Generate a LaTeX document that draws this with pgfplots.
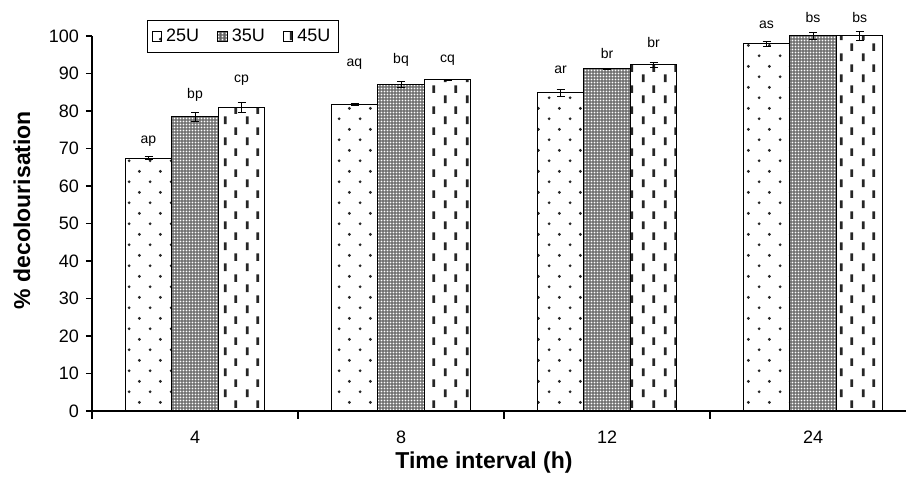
\documentclass[border=0pt]{standalone}
\usepackage{fontspec}
\setmainfont{Liberation Sans}
\usepackage{pgfplots}
\pgfplotsset{compat=1.18}
\usetikzlibrary{patterns}

\pgfdeclarepatternformonly{sparsedots}{\pgfqpoint{0pt}{0pt}}{\pgfqpoint{10.35pt}{10.67pt}}{\pgfqpoint{10.35pt}{10.67pt}}{%
  \pgfpathcircle{\pgfqpoint{2.6pt}{2.7pt}}{0.8pt}%
  \pgfpathcircle{\pgfqpoint{7.775pt}{8.035pt}}{0.8pt}%
  \pgfusepath{fill}}
\pgfdeclarepatternformonly{vdashes}{\pgfqpoint{0pt}{0pt}}{\pgfqpoint{11pt}{10.5pt}}{\pgfqpoint{11pt}{10.5pt}}{%
  \pgfpathrectangle{\pgfqpoint{2pt}{0.5pt}}{\pgfqpoint{1.4pt}{4pt}}%
  \pgfpathrectangle{\pgfqpoint{7.5pt}{5.75pt}}{\pgfqpoint{1.4pt}{4pt}}%
  \pgfusepath{fill}}
\pgfdeclarepatternformonly{mesh}{\pgfqpoint{0pt}{0pt}}{\pgfqpoint{1.7pt}{1.7pt}}{\pgfqpoint{1.7pt}{1.7pt}}{%
  \pgfpathrectangle{\pgfqpoint{0.35pt}{0.35pt}}{\pgfqpoint{1pt}{1pt}}%
  \pgfusepath{fill}}

\pgfplotsset{errs/.style={error bars/.cd, y dir=both, y explicit,
  error bar style={line width=0.5pt, black},
  error mark options={rotate=90, mark size=2pt, line width=0.5pt, black}}}

\begin{document}
\begin{tikzpicture}
\begin{axis}[
  width=407pt, height=187.5pt, scale only axis,
  xmin=-0.5, xmax=3.451, ymin=0, ymax=100,
  axis lines*=left,
  axis line style={line width=0.6pt},
  ybar, bar width=23.25pt,
  xtick={0,1,2,3}, xticklabels={4,8,12,24},
  major x tick style={draw=none},
  minor xtick={-0.5,0.5,1.5,2.5},
  ytick={0,10,...,100},
  tick align=outside, tick pos=left,
  major tick length=3pt, minor tick length=4pt,
  every tick/.style={black, line width=0.6pt},
  ticklabel style={font=\fontsize{9}{10}\selectfont},
  /pgf/number format/assume math mode=true,
  xticklabel style={yshift=-3.5pt},
  xlabel={Time interval (h)}, ylabel={\% decolourisation},
  label style={font=\fontsize{11.5}{13}\selectfont\bfseries},
  xlabel style={at={(axis description cs:0.4816,-0.1387)}, anchor=center},
  ylabel style={at={(axis description cs:-0.086,0.536)}, anchor=center},
  clip=false,
  legend columns=3,
  legend style={at={(axis description cs:0.0676,1.0427)}, anchor=north west,
    draw=black, line width=0.6pt, font=\fontsize{9}{10}\selectfont,
    inner sep=2pt,
    /tikz/every even column/.append style={column sep=7pt}},
  legend image code/.code={\draw[#1, line width=0.5pt] (0pt,-2.4pt) rectangle (4.8pt,2.4pt);},
]
\addplot[bar shift=-23.25pt, draw=black, line width=0.5pt, fill=white,
  postaction={pattern=sparsedots, pattern color=black!85}, errs]
  coordinates {(0,67.4) +- (0,0.4) (1,81.8) +- (0,0.3) (2,84.8) +- (0,0.9) (3,97.9) +- (0,0.6)};
\addplot[bar shift=0pt, draw=black, line width=0.5pt, fill=black!62,
  postaction={pattern=mesh, pattern color=white}, errs]
  coordinates {(0,78.5) +- (0,1.2) (1,87.0) +- (0,0.8) (2,91.2) +- (0,0.2) (3,100) +- (0,1.0)};
\addplot[bar shift=23.25pt, draw=black, line width=0.5pt, fill=white,
  postaction={pattern=vdashes, pattern color=black!85}, errs]
  coordinates {(0,80.9) +- (0,1.3) (1,88.3) +- (0,0.1) (2,92.3) +- (0,0.7) (3,100) +- (0,1.2)};
\legend{25U,35U,45U}
\addplot[sharp plot, draw=none, mark=none, forget plot,
  nodes near coords, point meta=explicit symbolic,
  every node near coord/.style={anchor=center, font=\fontsize{7}{8}\selectfont, inner sep=0pt}]
  coordinates {
  (-0.226,72) [ap] (0,84.3) [bp] (0.226,88.3) [cp]
  (0.774,92.5) [aq] (1,93.6) [bq] (1.226,93.6) [cq]
  (1.774,91) [ar] (2,95.2) [br] (2.226,98.2) [br]
  (2.774,103) [as] (3,104.8) [bs] (3.226,104.8) [bs]};
\end{axis}
\pgfresetboundingbox
\path[use as bounding box] (-46pt,-35.5pt) rectangle (407pt,205.5pt);
\end{tikzpicture}
\end{document}
